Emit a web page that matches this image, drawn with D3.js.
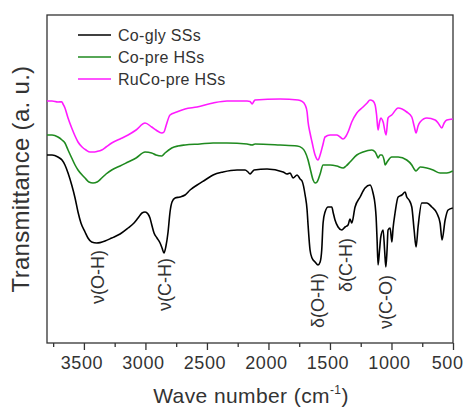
<!DOCTYPE html>
<html>
<head>
<meta charset="utf-8">
<script src="https://cdn.jsdelivr.net/npm/d3@7/dist/d3.min.js"></script>
<style>
  html, body { margin: 0; padding: 0; background: #fff; }
  svg { display: block; font-family: Arial, "Liberation Sans", sans-serif; }
</style>
</head>
<body>
<svg id="chart" width="467" height="408"></svg>
<script>
// FTIR spectra: [wave number (cm^-1), transmittance (a.u., offset for stacking)]
const coGlySS = [
  [3800,94],[3759,94],[3711,93],[3678,91.5],[3654,89],[3629,85],[3599,79],[3572,72.5],[3548,65.5],
  [3524,60],[3491,55.5],[3467,52.5],[3437,50.5],[3396,50],[3369,50.2],[3328,51],[3274,52.5],[3206,54.5],
  [3141,57.5],[3093,60],[3060,62.5],[3028,65],[3003,65.5],[2979,64.5],[2963,62.5],[2946,58.5],[2930,55],
  [2906,52.5],[2881,50],[2865,47.5],[2849,45],[2833,48.5],[2816,55.5],[2800,65.5],[2784,70.5],[2759,72.5],
  [2719,73],[2678,74],[2637,76.5],[2580,79],[2515,81.5],[2450,84],[2369,85.5],[2255,86.5],[2190,86.5],
  [2166,85.5],[2150,84.5],[2133,85.5],[2117,86.5],[2011,87],[1881,85.5],[1849,84.5],[1824,85],[1800,82.5],
  [1767,84],[1743,82],[1727,81],[1702,74],[1686,66.5],[1678,59],[1662,46.5],[1646,42.5],[1621,40.5],
  [1597,39],[1580,40.5],[1567,46.5],[1556,60],[1540,65.5],[1515,68],[1485,68],[1475,65.5],[1459,61.5],
  [1434,58],[1404,56.5],[1377,58],[1353,59],[1337,62],[1323,60],[1296,68],[1255,73],[1215,77.5],
  [1174,79],[1150,75],[1133,69],[1125,63],[1117,51.5],[1109,39],[1097,46.5],[1087,53],[1068,56.5],
  [1056,46.5],[1046,38],[1036,46.5],[1028,56.5],[1011,57.5],[997,50.5],[987,57.5],[971,65],[946,73],
  [916,74],[889,75.5],[876,73],[857,71.5],[835,68],[816,56.5],[800,48],[784,58],[754,70],[713,70],
  [672,68],[632,65],[605,60],[589,51.5],[564,61.5],[540,66.5],[502,67.5]
];

const coPreHS = [
  [3800,104],[3759,104],[3711,103],[3678,101.5],[3654,100],[3629,96.5],[3599,92.5],[3572,89],[3548,86.5],
  [3491,82.5],[3459,80.5],[3426,80],[3393,80.5],[3355,82.5],[3320,84.5],[3274,86.5],[3206,88.5],[3141,90.5],
  [3076,92.5],[3003,95.5],[2949,95],[2914,94],[2867,93.5],[2841,95],[2786,97.5],[2735,98.5],[2678,99],
  [2556,99.5],[2450,100],[2337,100],[2174,99.5],[2133,99],[2109,99.5],[1906,99],[1767,98.5],[1727,97.5],
  [1702,95.5],[1678,91.5],[1662,87.5],[1637,81.5],[1621,80],[1605,80.5],[1580,84.5],[1556,89],[1532,89],
  [1499,89],[1445,88.5],[1393,87.5],[1369,88.5],[1337,90.5],[1282,94],[1231,95.5],[1160,96.5],[1133,95.5],
  [1117,93.5],[1109,92.5],[1093,94],[1079,94],[1060,91.5],[1052,89],[1036,90.5],[998,93],[946,93],
  [876,91.5],[835,89],[816,87],[800,86],[784,87],[767,88],[713,87.5],[662,86.5],[605,85],[550,85],[502,86]
];

const ruCoPreHS = [
  [3800,121],[3759,121],[3711,120.5],[3680,120.6],[3670,119.5],[3654,117.5],[3629,112.5],[3599,107.5],
  [3572,103.5],[3548,100.5],[3515,98],[3483,96.5],[3450,95.5],[3426,95.5],[3393,95.8],[3355,96.5],
  [3320,98],[3274,100],[3206,102],[3141,104],[3076,106.5],[3003,110],[2949,108],[2914,106.5],[2867,105],
  [2849,105.5],[2833,108.5],[2800,114],[2746,115.5],[2678,117],[2580,118],[2450,120],[2337,121],
  [2174,121],[2150,120.8],[2133,119.5],[2117,121],[2109,121.5],[1906,122],[1759,121.5],[1727,120.8],
  [1702,119],[1686,115.5],[1678,110.5],[1662,105],[1646,100.5],[1621,94],[1597,91.5],[1580,94],
  [1558,99],[1540,103],[1499,104],[1445,104],[1418,103],[1393,102],[1369,103.5],[1353,105.5],[1323,110.5],
  [1282,115],[1231,118],[1198,120],[1174,121.5],[1150,121],[1133,119],[1121,114],[1109,106.5],[1097,110.5],
  [1087,112.5],[1068,110.5],[1044,104],[1028,112.5],[998,114],[946,117.5],[876,115.5],[835,113],
  [816,108.5],[800,105],[784,108.5],[767,110.5],[713,112.5],[645,111.5],[621,110],[591,107.5],
  [572,110],[550,111.5],[502,112]
];

const seriesNames = ["Co-gly SSs", "Co-pre HSs", "RuCo-pre HSs"];
const seriesColors = ["#000000", "#1f8a1f", "#ff1aff"];

// Band assignments: label text, wave number, transmittance at label top
const bandLabels = ["ν(O-H)", "ν(C-H)", "δ(O-H)", "δ(C-H)", "ν(C-O)"];
const bandWaveNumbers = [3385, 2841, 1597, 1369, 1044];
const bandLabelTops = [46.5, 42.5, 35, 52.5, 34];

const xMajorTicks = [3500, 3000, 2500, 2000, 1500, 1000, 500];
const xMinorTicks = [3750, 3250, 2750, 2250, 1750, 1250, 750];

const textColor = "#333";
const svg = d3.select("#chart");
const margin = { left: 47, right: 14, top: 15, bottom: 65 };
const W = 467, H = 408;

const x = d3.scaleLinear().domain([3800, 500]).range([margin.left, W - margin.right]);
const y = d3.scaleLinear().domain([0, 164]).range([H - margin.bottom, margin.top]);

// Frame
svg.append("rect")
  .attr("x", x.range()[0]).attr("y", y.range()[1])
  .attr("width", x.range()[1] - x.range()[0])
  .attr("height", y.range()[0] - y.range()[1])
  .attr("fill", "none").attr("stroke", textColor).attr("stroke-width", 1.3);

// Bottom axis: major and minor ticks pointing outward
const axisG = svg.append("g").attr("transform", `translate(0,${y.range()[0]})`);
axisG.call(d3.axisBottom(x).tickValues(xMajorTicks).tickSize(7).tickPadding(6).tickFormat(d3.format("d")))
  .call(g => g.select(".domain").remove())
  .call(g => g.selectAll(".tick line").attr("stroke", textColor).attr("stroke-width", 1.3))
  .call(g => g.selectAll(".tick text").attr("fill", textColor)
        .attr("x", -2.5)
        .attr("font-size", 18).attr("letter-spacing", 0.6)
        .attr("font-family", "Arial, 'Liberation Sans', sans-serif"))
  // the last label is pulled inward so it stays inside the page
  .call(g => g.selectAll(".tick text").filter(d => d === 500)
        .attr("text-anchor", "end").attr("x", 10));
const minorG = svg.append("g").attr("transform", `translate(0,${y.range()[0]})`);
minorG.call(d3.axisBottom(x).tickValues(xMinorTicks).tickSize(4).tickFormat(""))
  .call(g => g.select(".domain").remove())
  .call(g => g.selectAll(".tick line").attr("stroke", textColor).attr("stroke-width", 1.3));

// Axis titles
const xt = svg.append("text")
  .attr("x", (x.range()[0] + x.range()[1]) / 2 + 1).attr("y", 403)
  .attr("text-anchor", "middle").attr("fill", textColor)
  .attr("font-size", 21).attr("letter-spacing", 0.4);
xt.append("tspan").text("Wave number (cm");
xt.append("tspan").attr("font-size", 12).attr("dy", -9).text("-1");
xt.append("tspan").attr("dy", 9).text(")");

svg.append("text")
  .attr("transform", `translate(29,${(y.range()[0] + y.range()[1]) / 2}) rotate(-90)`)
  .attr("text-anchor", "middle").attr("fill", textColor)
  .attr("font-size", 24).attr("letter-spacing", 0.3)
  .text("Transmittance (a. u.)");

// Spectra
const line = d3.line()
  .x(d => x(d[0])).y(d => y(d[1]))
  .curve(d3.curveMonotoneX);

[coGlySS, coPreHS, ruCoPreHS].forEach((s, i) => {
  svg.append("path")
    .datum(s)
    .attr("fill", "none")
    .attr("stroke", seriesColors[i])
    .attr("stroke-width", 1.6)
    .attr("stroke-linejoin", "round")
    .attr("d", line);
});

// Band labels
bandLabels.forEach((t, i) => {
  svg.append("text")
    .attr("transform", `translate(${x(bandWaveNumbers[i])},${y(bandLabelTops[i])}) rotate(-90)`)
    .attr("text-anchor", "end")
    .attr("dominant-baseline", "central")
    .attr("fill", textColor)
    .attr("font-size", 18)
    .text(t);
});

// Legend
const legend = svg.append("g");
seriesNames.forEach((n, i) => {
  const ly = 35 + i * 22;
  legend.append("line")
    .attr("x1", 78).attr("x2", 111).attr("y1", ly).attr("y2", ly)
    .attr("stroke", seriesColors[i]).attr("stroke-width", 1.6);
  legend.append("text")
    .attr("x", 118).attr("y", ly + 6)
    .attr("fill", textColor).attr("font-size", 16).attr("letter-spacing", 0.3)
    .text(n);
});
</script>
</body>
</html>
